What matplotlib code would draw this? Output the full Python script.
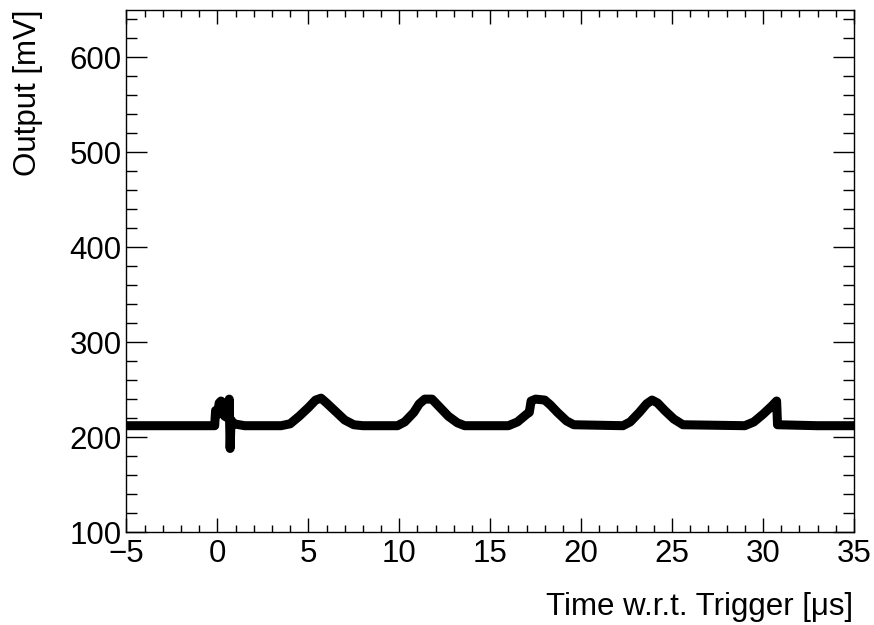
import matplotlib
matplotlib.use("Agg")
import matplotlib.pyplot as plt
from matplotlib.ticker import MultipleLocator

# waveform (time in us, output in mV)
time_us = [-5.0, -2.0, -0.15, -0.1, 0.0, 0.1, 0.2, 0.3, 0.4, 0.6, 0.65, 0.7, 0.75, 0.9,
           1.5, 3.5, 4.0, 4.5, 5.0, 5.4, 5.7, 6.0, 6.5, 7.0, 7.5, 8.0,
           9.9, 10.3, 10.8, 11.1, 11.4, 11.8, 12.2, 12.7, 13.2, 13.6,
           16.0, 16.5, 17.0, 17.15, 17.25, 17.5, 18.0, 18.3, 18.7, 19.2, 19.6,
           22.3, 22.7, 23.2, 23.6, 23.9, 24.2, 24.6, 25.1, 25.6,
           29.0, 29.5, 30.0, 30.5, 30.75, 30.8, 33.0, 35.0]
output_mv = [212, 212, 212, 228, 224, 236, 238, 225, 222, 220, 240, 188, 218, 214,
             212, 212, 214, 222, 231, 239, 241, 236, 227, 218, 213, 212,
             212, 216, 226, 235, 240, 240, 232, 222, 215, 212,
             212, 216, 224, 226, 238, 240, 239, 234, 226, 217, 213,
             212, 216, 226, 235, 239, 236, 228, 219, 213,
             212, 216, 224, 233, 238, 213, 212, 212]

x_range = (-5, 35)
y_range = (100, 650)

plt.rcParams["font.family"] = ["Liberation Sans", "DejaVu Sans"]

fig = plt.figure(figsize=(8.74, 6.25), dpi=100)
ax = fig.add_axes([0.1447, 0.1488, 0.977 - 0.1447, 0.984 - 0.1488])

ax.plot(time_us, output_mv, color="black", lw=6.5,
        solid_joinstyle="round", solid_capstyle="round")

ax.set_xlim(*x_range)
ax.set_ylim(*y_range)

ax.xaxis.set_major_locator(MultipleLocator(5))
ax.xaxis.set_minor_locator(MultipleLocator(1))
ax.yaxis.set_major_locator(MultipleLocator(100))
ax.yaxis.set_minor_locator(MultipleLocator(20))

ax.tick_params(axis="both", which="both", direction="in", top=True, right=True,
               width=1, labelsize=22.5, colors="black")
ax.tick_params(axis="x", which="major", length=10, pad=5)
ax.tick_params(axis="x", which="minor", length=5)
ax.tick_params(axis="y", which="major", length=15, pad=3.5)
ax.tick_params(axis="y", which="minor", length=8)
ax.tick_params(axis="x", labeltop=False)
ax.tick_params(axis="y", labelright=False)

for s in ax.spines.values():
    s.set_linewidth(1)

ax.set_xticklabels([f"{v:g}".replace("-", "\u2212") for v in ax.get_xticks()])

fig.text(0.976, 0.029, "Time w.r.t. Trigger [\u03bcs]", ha="right", va="center", fontsize=22.5)
fig.text(0.032, 0.984, "Output [mV]", ha="center", va="top", rotation=90, fontsize=22.5)

fig.savefig("out.png", dpi=100)
